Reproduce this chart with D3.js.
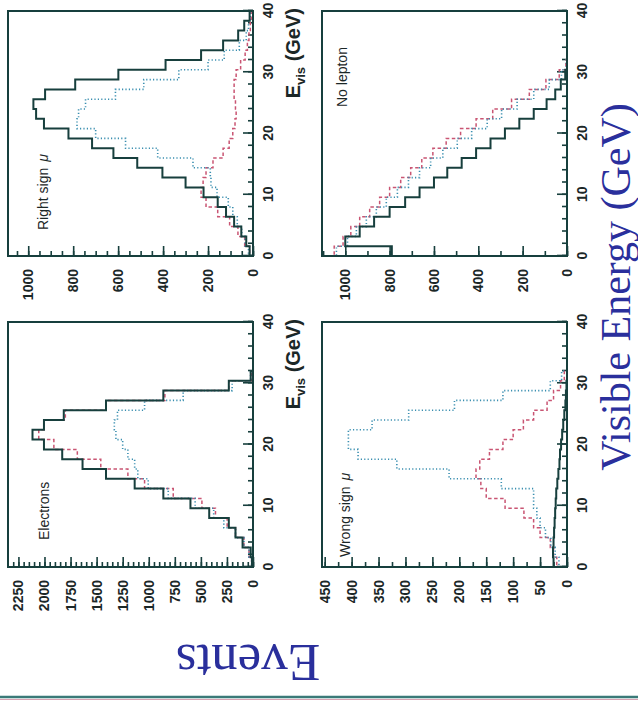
<!DOCTYPE html>
<html>
<head>
<meta charset="utf-8">
<script src="https://cdn.jsdelivr.net/npm/d3@7"></script>
<style>
  body { margin: 0; background: #fff; }
</style>
</head>
<body>
<div id="chart"></div>
<script>
// energy bins (GeV), 25 bins of 1.6
const edges = [0, 1.6, 3.2, 4.8, 6.4, 8, 9.6, 11.2, 12.8, 14.4, 16, 17.6, 19.2, 20.8,
               22.4, 24, 25.6, 27.2, 28.8, 30.4, 32, 33.6, 35.2, 36.8, 38.4, 40];
const energyTicks = [0, 10, 20, 30, 40];

// events per bin
const elecSolid  = [10, 22, 100, 168, 232, 420, 600, 860, 1135, 1410, 1635, 1830, 2005, 2115, 2005, 1815, 1410, 860, 232, 22, 0, 0, 0, 0, 0];
const elecDotted = [13, 39, 87, 168, 280, 377, 555, 813, 1005, 1105, 1135, 1200, 1250, 1315, 1330, 1300, 1040, 670, 200, 23, 0, 0, 0, 0, 0];
const elecDashed = [13, 39, 87, 168, 248, 360, 490, 765, 1040, 1200, 1460, 1685, 1910, 2055, 2005, 1800, 1410, 845, 232, 13, 0, 0, 0, 0, 0];

const rightSolid  = [15, 30, 52, 84, 120, 157, 220, 300, 403, 515, 621, 716, 821, 930, 965, 977, 925, 791, 599, 389, 231, 133, 66, 39, 15];
const rightDotted = [20, 35, 50, 70, 90, 110, 160, 187, 190, 267, 424, 567, 700, 783, 776, 745, 612, 486, 330, 200, 128, 61, 30, 20, 12];
const rightDashed = [15, 37, 67, 104, 157, 209, 231, 222, 209, 178, 133, 106, 90, 80, 75, 78, 84, 84, 75, 55, 35, 25, 18, 12, 8];

const wrongSolid  = [25, 26, 25, 24, 23, 22, 21, 20, 18, 16, 14, 13, 11, 9, 7, 5, 3, 2, 1, 0, 0, 0, 0, 0, 0];
const wrongDotted = [15, 22, 30, 40, 50, 56, 62, 62, 122, 219, 316, 388, 406, 406, 362, 294, 209, 119, 31, 10, 0, 0, 0, 0, 0];
const wrongDashed = [19, 25, 31, 50, 62, 80, 115, 150, 160, 169, 162, 144, 119, 100, 81, 62, 37, 25, 12, 5, 0, 0, 0, 0, 0];

const noLepSolid  = [790, 1000, 935, 870, 800, 730, 665, 600, 540, 475, 410, 345, 280, 215, 150, 92, 53, 28, 8, 0, 0, 0, 0, 0, 0];
const noLepDotted = [1040, 990, 950, 905, 860, 815, 765, 715, 665, 615, 560, 495, 430, 360, 295, 225, 150, 80, 25, 3, 0, 0, 0, 0, 0];
const noLepDashed = [1050, 1010, 975, 935, 890, 845, 800, 750, 705, 655, 605, 545, 480, 410, 335, 250, 170, 95, 35, 5, 0, 0, 0, 0, 0];

const panelLabels = ["Electrons", "Right sign", "Wrong sign", "No lepton"];
const eventsMax   = [2350, 1090, 455, 1105];
const elecTicks   = [0, 250, 500, 750, 1000, 1250, 1500, 1750, 2000, 2250];
const rightTicks  = [0, 200, 400, 600, 800, 1000];
const wrongTicks  = [0, 50, 100, 150, 200, 250, 300, 350, 400, 450];
const noLepTicks  = [0, 200, 400, 600, 800, 1000];

const W = 638, H = 704;
const PW = 245, PH = 245;
const COLS = [137, 448], ROWS = [8, 322];
const FRAME = "#173f3d";
const BLUE_TEXT = "#2a2f9c";
const lineStyle = [
    {color: "#c95573", width: 1.5, dash: "3.5,2.5"},   // dashed
    {color: "#3a8fb0", width: 1.6, dash: "1.2,2.2"},   // dotted
    {color: FRAME, width: 2, dash: null}               // solid
];

const panels = [
    {label: panelLabels[0], mu: false, col: 0, row: 0, ymax: eventsMax[0], ticks: elecTicks, minor: 50,
     data: [elecDashed, elecDotted, elecSolid], lx: 27, ly: 41, title: true},
    {label: panelLabels[1], mu: true, col: 1, row: 0, ymax: eventsMax[1], ticks: rightTicks, minor: 50,
     data: [rightDashed, rightDotted, rightSolid], lx: 26, ly: 40, title: true},
    {label: panelLabels[2], mu: true, col: 0, row: 1, ymax: eventsMax[2], ticks: wrongTicks, minor: 25,
     data: [wrongDashed, wrongDotted, wrongSolid], lx: 10, ly: 28, title: false},
    {label: panelLabels[3], mu: false, col: 1, row: 1, ymax: eventsMax[3], ticks: noLepTicks, minor: 100,
     data: [noLepDashed, noLepDotted, noLepSolid], lx: 149, ly: 25, title: false}
];

const svg = d3.select("#chart").append("svg")
    .attr("width", W)
    .attr("height", H);

// the figure is drawn upright and then turned a quarter turn to the left
const fig = svg.append("g").attr("transform", `translate(0,${H}) rotate(-90)`);

function outline(vals) {
    const pts = [[edges[0], 0]];
    vals.forEach((v, i) => {
        pts.push([edges[i], v], [edges[i + 1], v]);
    });
    pts.push([edges[edges.length - 1], 0]);
    return pts;
}

function styleAxis(a, size) {
    a.select(".domain").remove();
    a.attr("color", FRAME);
    a.selectAll("line").attr("stroke-width", 1.6);
    a.selectAll("text")
        .attr("fill", "#1b2727")
        .attr("font-family", "'Liberation Sans', Arial, sans-serif")
        .attr("font-weight", "bold")
        .attr("font-size", size);
}

panels.forEach(p => {
    const g = fig.append("g").attr("transform", `translate(${COLS[p.col]},${ROWS[p.row]})`);
    const x = d3.scaleLinear().domain([0, 40]).range([0, PW]);
    const y = d3.scaleLinear().domain([0, p.ymax]).range([PH, 0]);

    // energy axis: minor + major
    g.append("g").attr("transform", `translate(0,${PH})`)
        .call(d3.axisBottom(x).tickValues(d3.range(0, 41, 2)).tickSize(-5).tickSizeOuter(0).tickFormat(""))
        .call(a => styleAxis(a, 14));
    g.append("g").attr("transform", `translate(0,${PH})`)
        .call(d3.axisBottom(x).tickValues(energyTicks).tickSize(-10).tickSizeOuter(0).tickPadding(10).tickFormat(d3.format("d")))
        .call(a => styleAxis(a, 14));

    // events axis: minor + major
    g.append("g")
        .call(d3.axisLeft(y).tickValues(d3.range(0, p.ymax, p.minor)).tickSize(-5).tickSizeOuter(0).tickFormat(""))
        .call(a => styleAxis(a, 14));
    g.append("g")
        .call(d3.axisLeft(y).tickValues(p.ticks).tickSize(-10).tickSizeOuter(0).tickPadding(13).tickFormat(d3.format("d")))
        .call(a => styleAxis(a, 14));

    // histograms
    const line = d3.line().x(d => x(d[0])).y(d => y(d[1]));
    p.data.forEach((vals, i) => {
        const s = lineStyle[i];
        g.append("path")
            .attr("d", line(outline(vals)))
            .attr("fill", "none")
            .attr("stroke", s.color)
            .attr("stroke-width", s.width)
            .attr("stroke-dasharray", s.dash);
    });

    // frame
    g.append("rect")
        .attr("width", PW)
        .attr("height", PH)
        .attr("fill", "none")
        .attr("stroke", FRAME)
        .attr("stroke-width", 2);

    // panel label
    const lab = g.append("text")
        .attr("x", p.lx)
        .attr("y", p.ly)
        .attr("font-family", "'Liberation Sans', Arial, sans-serif")
        .attr("font-size", 14)
        .attr("fill", "#1b2727")
        .text(p.label);
    if (p.mu) lab.append("tspan").attr("dx", 6).attr("font-style", "italic").text("μ");

    // axis title under the upper panels
    if (p.title) {
        const t = g.append("text")
            .attr("x", PW + 3)
            .attr("y", PH + 47)
            .attr("text-anchor", "end")
            .attr("font-family", "'Liberation Sans', Arial, sans-serif")
            .attr("font-weight", "bold")
            .attr("font-size", 20)
            .attr("fill", "#1b2727");
        t.append("tspan").text("E");
        t.append("tspan").attr("font-size", 13).attr("dy", 5).text("vis");
        t.append("tspan").attr("dy", -5).text(" (GeV)");
    }
});

// big slide titles
fig.append("text")
    .attr("transform", "translate(59,248) rotate(-90)")
    .attr("text-anchor", "middle")
    .attr("font-family", "'Liberation Serif', 'Times New Roman', serif")
    .attr("font-size", 53)
    .attr("fill", BLUE_TEXT)
    .text("Events");

fig.append("text")
    .attr("x", 417)
    .attr("y", 630)
    .attr("text-anchor", "middle")
    .attr("font-family", "'Liberation Serif', 'Times New Roman', serif")
    .attr("font-size", 42)
    .attr("fill", BLUE_TEXT)
    .text("Visible Energy (GeV)");

// slide rule along the bottom
svg.append("line")
    .attr("x1", 0).attr("x2", W)
    .attr("y1", 697).attr("y2", 697)
    .attr("stroke", "#3a7a78")
    .attr("stroke-width", 2.5);
svg.append("line")
    .attr("x1", 0).attr("x2", W)
    .attr("y1", 699.5).attr("y2", 699.5)
    .attr("stroke", "#d8a0b0")
    .attr("stroke-width", 1);
</script>
</body>
</html>
